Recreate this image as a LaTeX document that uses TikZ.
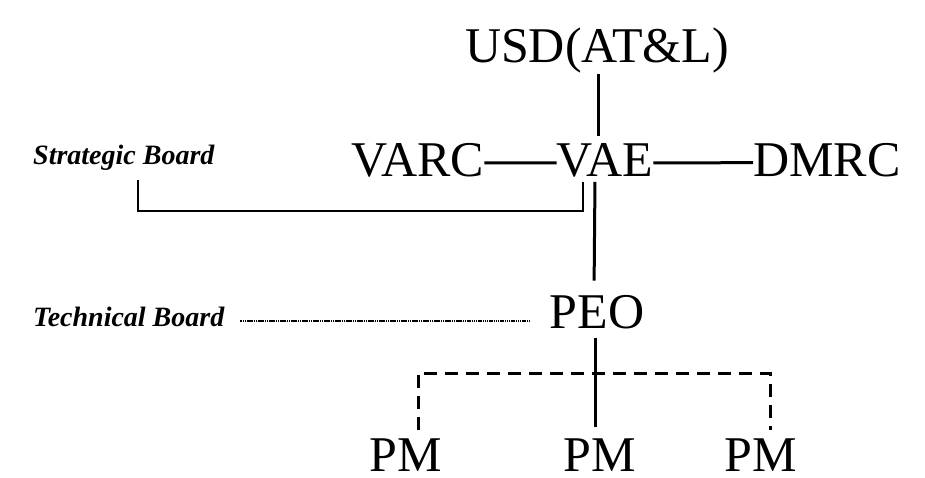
\documentclass[tikz,border=0pt]{standalone}
\usepackage{fontspec}
\setmainfont{Liberation Serif}
\begin{document}
\begin{tikzpicture}[x=1pt,y=-1pt,
  big/.style={font=\fontsize{50}{60}\selectfont, inner sep=0pt, anchor=base},
  lab/.style={font=\fontsize{28}{32}\selectfont\bfseries\itshape, inner sep=0pt, anchor=base west},
  solidline/.style={line width=3pt},
  thinline/.style={line width=2pt},
  dotline/.style={line width=1.6pt, dash pattern=on 1.5pt off 0.7pt},
  dashline/.style={line width=3pt, dash pattern=on 13pt off 8pt}]
\useasboundingbox (0,0) rectangle (925,478);
\fill[white] (0,0) rectangle (925,478);

\node[big] (usd) at (597,63) {USD(AT\&L)};
\node[big] (varc) at (418,177) {VARC};
\node[big] (vae) at (605,177) {VAE};
\node[big] (dmrc) at (827,177) {DMRC};
\node[big] (peo) at (597,328) {PEO};
\node[big] (pm1) at (406,471) {PM};
\node[big] (pm2) at (600,471) {PM};
\node[big] (pm3) at (761,471) {PM};

\node[lab] (sb) at (33,165) {Strategic Board};
\node[lab] (tb) at (33,326) {Technical Board};

% USD to VAE
\draw[solidline, shorten >=8pt] (usd.south) ++(1,0) -- ([xshift=-7pt]vae.north);
% dashes between board members
\draw[solidline] ([yshift=-2pt]varc.east) -- ([yshift=-2pt]vae.west);
\draw[solidline] ([yshift=-2pt]vae.east) -- ([yshift=-2pt]dmrc.west);
% VAE to PEO
\draw[solidline, shorten <=4pt, shorten >=14pt] ([xshift=-10pt]vae.south) -- ([xshift=-3pt]peo.north);
% strategic board bracket
\coordinate (bl) at (138,180);
\coordinate (br) at (583,182);
\draw[thinline] (bl) -- ++(0,31) -| (br);
% technical board dotted line
\draw[dotline] ([xshift=16pt,yshift=5pt]tb.base east) -- ([xshift=-20pt,yshift=7pt]peo.base west);
% PEO to PM
\draw[solidline, shorten <=9pt, shorten >=11pt] ([xshift=-2pt]peo.south) -- ([xshift=-5pt]pm2.north);
% dashed links to PMs
\draw[dashline] ([xshift=12pt,yshift=8pt]pm1.north) -- ++(0,-57) -| ([xshift=9pt,yshift=8pt]pm3.north);
\end{tikzpicture}
\end{document}
